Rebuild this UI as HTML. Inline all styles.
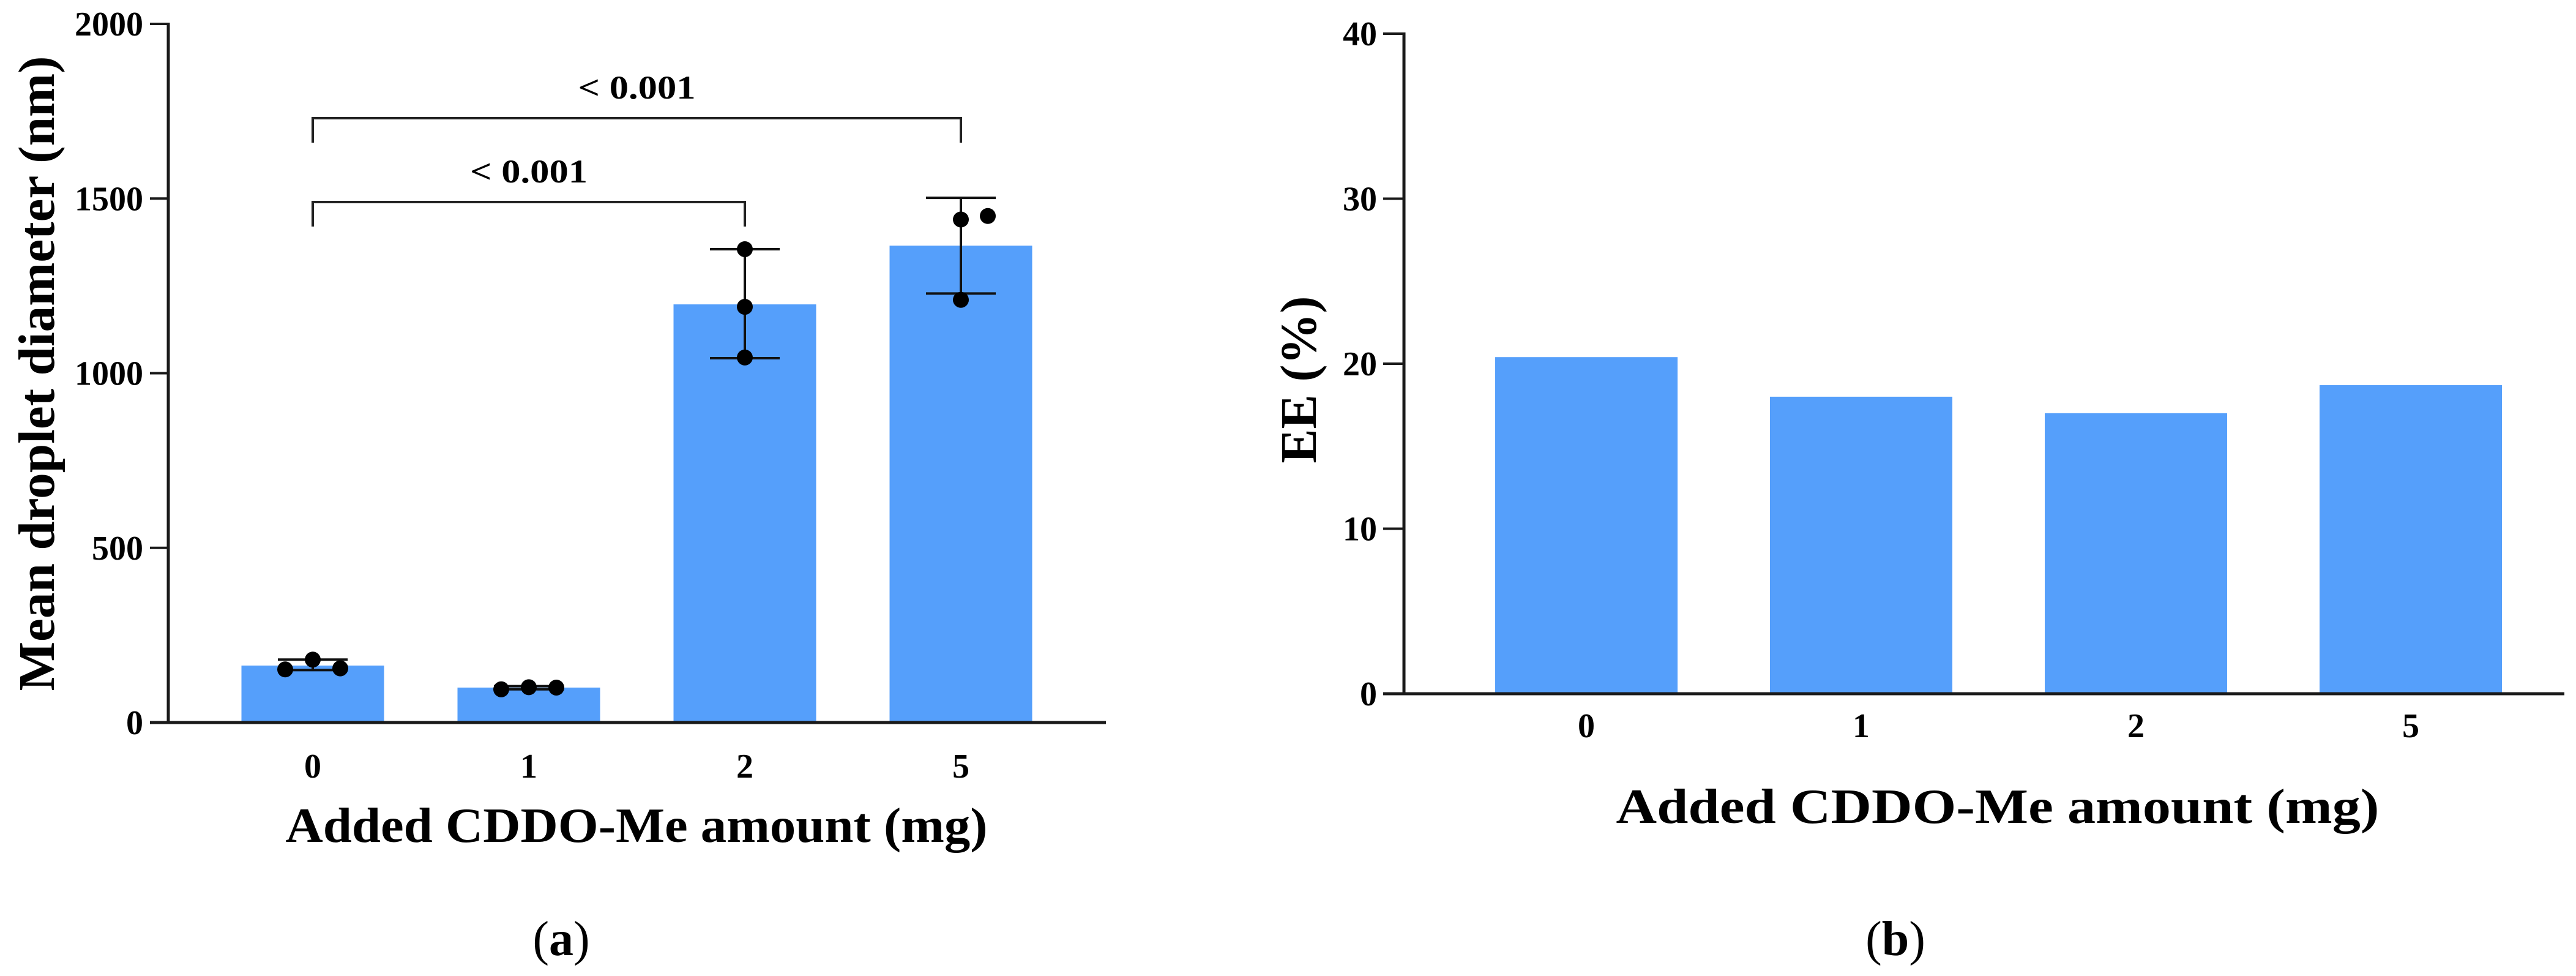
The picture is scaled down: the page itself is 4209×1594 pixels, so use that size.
<!DOCTYPE html>
<html><head><meta charset="utf-8"><style>
html,body{margin:0;padding:0;background:#fff;}
svg{display:block;}
text{font-family:"Liberation Serif",serif;font-weight:bold;fill:#000;}
</style></head><body>
<svg id="fig" width="4209" height="1594" viewBox="0 0 4209 1594" xmlns="http://www.w3.org/2000/svg">
<g id="chartA"></g>
<g id="chartB"></g>
<text x="917" y="1560" font-size="80" text-anchor="middle" style="font-weight:normal">(<tspan style="font-weight:bold">a</tspan>)</text>
<text x="3097" y="1560" font-size="80" text-anchor="middle" style="font-weight:normal">(<tspan style="font-weight:bold">b</tspan>)</text>
</svg>
<script>
const categories = ["0","1","2","5"];
const diameterMeans = [163, 100, 1197, 1365];
const diameterLow = [150, 95, 1043, 1228];
const diameterHigh = [180, 104, 1355, 1502];
const diameterPoints = [[152,180,155],[95,101,100],[1045,1190,1355],[1210,1440,1450]];
const diameterTicks = [0,500,1000,1500,2000];
const eeValues = [20.4, 18.0, 17.0, 18.7];
const eeTicks = [0,10,20,30,40];
const sigPairs = [[0,3,1730],[0,2,1490]];
const sigLabels = ["< 0.001","< 0.001"];

const NS = "http://www.w3.org/2000/svg";
function mk(parent, tag, attrs, txt){
  const e = document.createElementNS(NS, tag);
  for (const k in attrs) e.setAttribute(k, attrs[k]);
  if (txt !== undefined) e.textContent = txt;
  parent.appendChild(e);
  return e;
}
const BLUE = "#559ffb";
const AX = "#1a1a1a";

// ---- Chart A ----
(function(){
  const g = document.getElementById("chartA");
  const x0 = 275, yBase = 1180, yTop = 39, xEnd = 1807;
  const y = v => yBase - (v/2000)*(yBase - yTop);
  const xc = i => 511 + i*353;
  const bw = 233;
  categories.forEach((c,i)=>{
    const r = mk(g,"rect",{x:xc(i)-bw/2,y:y(diameterMeans[i]),width:bw,height:yBase-y(diameterMeans[i]),fill:BLUE});
    
    
  });
  categories.forEach((c,i)=>{
    const eg = mk(g,"g",{stroke:"#111","stroke-width":4});
    
    
    mk(eg,"line",{x1:xc(i),x2:xc(i),y1:y(diameterLow[i]),y2:y(diameterHigh[i])});
    mk(eg,"line",{x1:xc(i)-57,x2:xc(i)+57,y1:y(diameterLow[i]),y2:y(diameterLow[i])});
    mk(eg,"line",{x1:xc(i)-57,x2:xc(i)+57,y1:y(diameterHigh[i]),y2:y(diameterHigh[i])});
  });
  const offs = [[-45,0,45],[-45,0,45],[0,0,0],[0,0,44]];
  diameterPoints.forEach((pts,i)=>{
    pts.forEach((v,j)=>{
      const ofs = offs[i][j];
      const p = mk(g,"circle",{cx:xc(i)+ofs,cy:y(v),r:13,fill:"#000"});
      
      
    });
  });
  const ya = mk(g,"line",{x1:x0,x2:x0,y1:yTop-2,y2:yBase+2,stroke:AX,"stroke-width":5});
  
  
  const xa = mk(g,"line",{x1:245,x2:xEnd,y1:yBase,y2:yBase,stroke:AX,"stroke-width":5});
  
  
  diameterTicks.forEach(t=>{
    mk(g,"line",{x1:245,x2:x0,y1:y(t),y2:y(t),stroke:AX,"stroke-width":4});
    const l = mk(g,"text",{x:234,y:y(t)+19,"font-size":56,"text-anchor":"end"},String(t));
    
    
  });
  categories.forEach((c,i)=>{
    const l = mk(g,"text",{x:xc(i),y:1270,"font-size":56,"text-anchor":"middle"},c);
    
    
  });
  sigPairs.forEach((s,k)=>{
    const yy = y(s[2]);
    const sg = mk(g,"g",{});
    
    
    mk(sg,"path",{d:`M${xc(s[0])},${yy+40} V${yy} H${xc(s[1])} V${yy+40}`,fill:"none",stroke:"#222","stroke-width":4});
    const t = mk(sg,"text",{x:(xc(s[0])+xc(s[1]))/2,y:yy-32,"font-size":54,"text-anchor":"middle",textLength:192,lengthAdjust:"spacingAndGlyphs"},sigLabels[k]);
    
    
  });
  const yt = mk(g,"text",{x:0,y:0,"font-size":84,"text-anchor":"middle",transform:"translate(88,610) rotate(-90)",textLength:1037,lengthAdjust:"spacingAndGlyphs"},"Mean droplet diameter (nm)");
  
  
  const xt = mk(g,"text",{x:1040,y:1375,"font-size":80,"text-anchor":"middle",textLength:1147,lengthAdjust:"spacingAndGlyphs"},"Added CDDO-Me amount (mg)");
  
  
})();

// ---- Chart B ----
(function(){
  const g = document.getElementById("chartB");
  const x0 = 2294, yBase = 1133, yTop = 55, xEnd = 4190;
  const y = v => yBase - (v/40)*(yBase - yTop);
  const xc = i => 2592 + i*449;
  const bw = 298;
  categories.forEach((c,i)=>{
    const r = mk(g,"rect",{x:xc(i)-bw/2,y:y(eeValues[i]),width:bw,height:yBase-y(eeValues[i]),fill:BLUE});
    
    
  });
  const ya = mk(g,"line",{x1:x0,x2:x0,y1:yTop-2,y2:yBase+2,stroke:AX,"stroke-width":5});
  
  
  const xa = mk(g,"line",{x1:2260,x2:xEnd,y1:yBase,y2:yBase,stroke:AX,"stroke-width":5});
  
  
  eeTicks.forEach(t=>{
    mk(g,"line",{x1:2260,x2:x0,y1:y(t),y2:y(t),stroke:AX,"stroke-width":4});
    const l = mk(g,"text",{x:2250,y:y(t)+19,"font-size":56,"text-anchor":"end"},String(t));
    
    
  });
  categories.forEach((c,i)=>{
    const l = mk(g,"text",{x:xc(i),y:1204,"font-size":56,"text-anchor":"middle"},c);
    
    
  });
  const yt = mk(g,"text",{x:0,y:0,"font-size":84,"text-anchor":"middle",transform:"translate(2150,620) rotate(-90)"},"EE (%)");
  
  
  const xt = mk(g,"text",{x:3264,y:1344,"font-size":80,"text-anchor":"middle",textLength:1247,lengthAdjust:"spacingAndGlyphs"},"Added CDDO-Me amount (mg)");
  
  
})();
</script>
</body></html>
